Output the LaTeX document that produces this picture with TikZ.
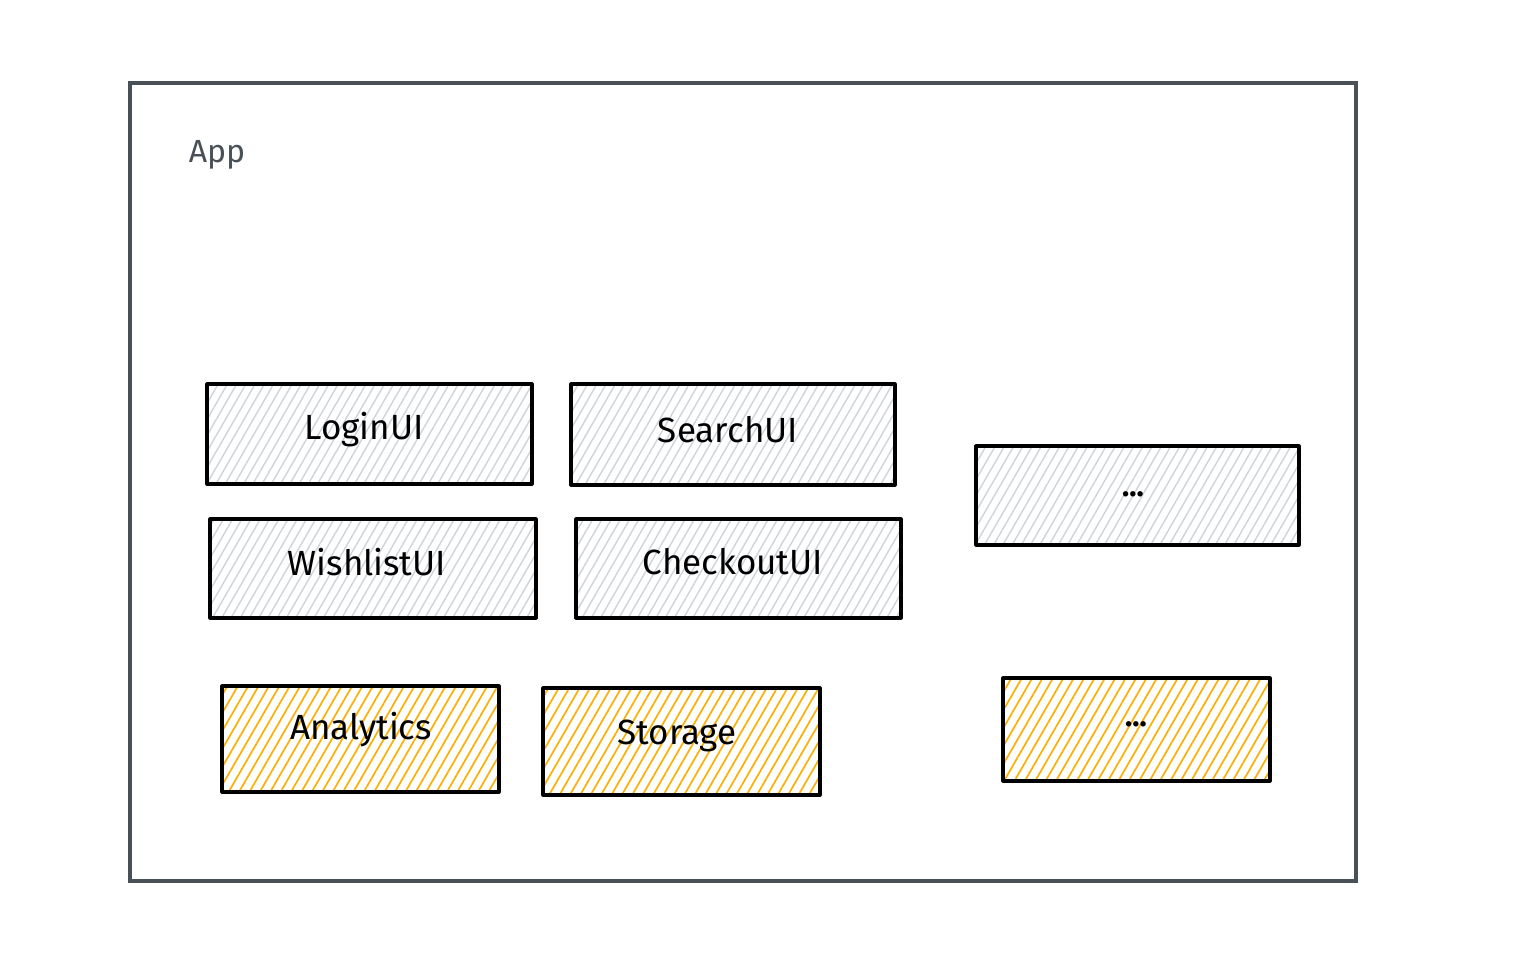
\documentclass[tikz,border=0pt]{standalone}
\usepackage{fontspec}
\setmainfont{Fira Sans}
\usetikzlibrary{patterns.meta}
\definecolor{framegray}{HTML}{495057}
\definecolor{hatchgray}{HTML}{CED4DA}
\definecolor{hatchorange}{HTML}{FAB005}
\tikzset{
  uibox/.style={draw=black, line width=3.2pt, line join=round,
    pattern={Lines[angle=60,distance=8pt,line width=1.4pt]}, pattern color=hatchgray},
  libbox/.style={draw=black, line width=3.2pt, line join=round,
    pattern={Lines[angle=60,distance=9pt,line width=1.7pt]}, pattern color=hatchorange},
  lbl/.style={font=\fontsize{35}{40}\selectfont, text=black},
  dots/.style={font=\bfseries\fontsize{30}{36}\selectfont, text=black},
  applbl/.style={font=\fontsize{32}{38}\selectfont, text=framegray}
}
\begin{document}
\begin{tikzpicture}[x=1pt,y=-1pt]
\useasboundingbox (0,0) rectangle (1520,954);
\fill[white] (0,0) rectangle (1520,954);
\draw[draw=framegray, line width=3.2pt] (130,83) rectangle (1356,881);
\node[applbl] (app) at (217,155) {App};
% UI modules
\draw[uibox] (207,384) rectangle (532,484);
\node[lbl] (login) at (364,430) {LoginUI};
\draw[uibox] (571,384) rectangle (895,485);
\node[lbl] (search) at (728,430) {SearchUI};
\draw[uibox] (210,519) rectangle (536,618);
\node[lbl] (wish) at (367,562) {WishlistUI};
\draw[uibox] (576,519) rectangle (901,618);
\node[lbl] (checkout) at (733,562) {CheckoutUI};
\draw[uibox] (976,446) rectangle (1299,545);
\node[dots] (moreui) at (1133,494) {...};
% libraries
\draw[libbox] (222,686) rectangle (499,792);
\node[lbl] (analytics) at (361,730) {Analytics};
\draw[libbox] (543,688) rectangle (820,795);
\node[lbl] (storage) at (677,736) {Storage};
\draw[libbox] (1003,678) rectangle (1270,781);
\node[dots] (morelib) at (1136,724) {...};
\end{tikzpicture}
\end{document}
